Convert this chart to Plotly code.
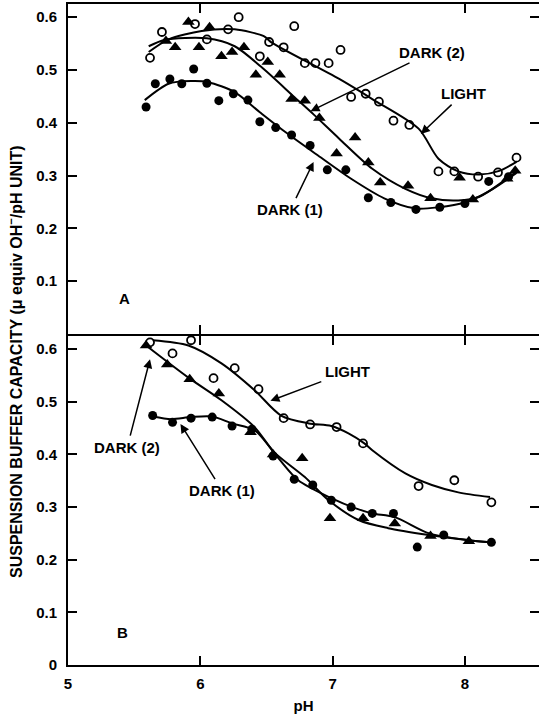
import plotly.graph_objects as go

# ---------------- Panel A data ----------------
a_light_ph = [5.62, 5.71, 5.96, 6.05, 6.21, 6.29, 6.45, 6.52, 6.63, 6.71, 6.79, 6.87, 6.97, 7.06,
              7.14, 7.25, 7.35, 7.46, 7.58, 7.80, 7.92, 8.10, 8.25, 8.39]
a_light_val = [0.523, 0.572, 0.587, 0.558, 0.577, 0.600, 0.526, 0.553, 0.543, 0.583, 0.513, 0.513, 0.513, 0.538,
               0.449, 0.455, 0.440, 0.404, 0.396, 0.308, 0.308, 0.298, 0.306, 0.334]

a_dark2_ph = [5.74, 5.81, 5.91, 5.99, 6.07, 6.16, 6.24, 6.33, 6.42, 6.51, 6.60, 6.69, 6.79, 6.90,
              7.03, 7.17, 7.27, 7.36, 7.57, 7.74, 7.96, 8.06, 8.32, 8.38]
a_dark2_val = [0.555, 0.543, 0.591, 0.543, 0.581, 0.526, 0.534, 0.543, 0.491, 0.515, 0.491, 0.445, 0.442, 0.409,
               0.342, 0.372, 0.325, 0.287, 0.281, 0.257, 0.296, 0.255, 0.294, 0.309]

a_dark1_ph = [5.59, 5.66, 5.77, 5.86, 5.95, 6.05, 6.14, 6.25, 6.36, 6.45, 6.57, 6.69, 6.83, 6.96,
              7.10, 7.27, 7.44, 7.63, 7.81, 8.00, 8.18, 8.33]
a_dark1_val = [0.430, 0.474, 0.483, 0.474, 0.502, 0.475, 0.442, 0.455, 0.443, 0.402, 0.391, 0.377, 0.357, 0.311,
               0.311, 0.258, 0.249, 0.236, 0.240, 0.247, 0.289, 0.298]

# fitted curves (panel A)
a_light_fit_ph = [5.61, 5.76, 6.01, 6.26, 6.48, 6.54, 7.05, 7.30, 7.65, 7.80, 7.95, 8.11, 8.26, 8.39]
a_light_fit_val = [0.534, 0.558, 0.574, 0.577, 0.564, 0.552, 0.483, 0.445, 0.389, 0.332, 0.308, 0.302, 0.309, 0.326]

a_dark2_fit_ph = [5.61, 5.73, 6.05, 6.26, 6.46, 6.71, 6.86, 7.05, 7.30, 7.55, 7.75, 7.95, 8.11, 8.30, 8.39]
a_dark2_fit_val = [0.545, 0.557, 0.560, 0.545, 0.506, 0.449, 0.415, 0.370, 0.313, 0.275, 0.257, 0.253, 0.260, 0.291, 0.307]

a_dark1_fit_ph = [5.58, 5.76, 5.93, 6.06, 6.26, 6.45, 6.64, 6.89, 7.14, 7.39, 7.62, 7.80, 8.00, 8.18, 8.39]
a_dark1_fit_val = [0.443, 0.474, 0.479, 0.477, 0.458, 0.420, 0.383, 0.338, 0.294, 0.257, 0.238, 0.240, 0.249, 0.270, 0.305]

# ---------------- Panel B data ----------------
b_light_ph = [5.62, 5.79, 5.93, 6.10, 6.26, 6.44, 6.63, 6.83, 7.03, 7.23, 7.65, 7.92, 8.20]
b_light_val = [0.613, 0.592, 0.617, 0.545, 0.564, 0.524, 0.469, 0.457, 0.452, 0.421, 0.340, 0.351, 0.309]

b_dark2_ph = [5.59, 5.75, 5.92, 6.14, 6.38, 6.55, 6.77, 6.98, 7.23, 7.47, 7.74, 8.03]
b_dark2_val = [0.607, 0.571, 0.543, 0.516, 0.442, 0.400, 0.393, 0.279, 0.279, 0.269, 0.245, 0.235]

b_dark1_ph = [5.64, 5.79, 5.93, 6.09, 6.24, 6.39, 6.55, 6.71, 6.85, 6.99, 7.14, 7.30, 7.46, 7.64, 7.84, 8.20]
b_dark1_val = [0.474, 0.461, 0.469, 0.471, 0.454, 0.448, 0.397, 0.353, 0.342, 0.313, 0.300, 0.288, 0.288, 0.224, 0.247, 0.233]

# fitted curves (panel B)
b_light_fit_ph = [5.64, 5.91, 6.16, 6.41, 6.61, 6.82, 6.99, 7.12, 7.24, 7.30, 7.55, 7.75, 7.95, 8.19]
b_light_fit_val = [0.617, 0.607, 0.573, 0.522, 0.474, 0.459, 0.454, 0.440, 0.421, 0.408, 0.364, 0.342, 0.328, 0.319]

b_dark2_fit_ph = [5.59, 5.91, 6.16, 6.41, 6.56, 6.79, 6.97, 7.20, 7.42, 7.73, 8.03, 8.19]
b_dark2_fit_val = [0.607, 0.546, 0.503, 0.452, 0.404, 0.357, 0.313, 0.275, 0.260, 0.247, 0.237, 0.233]

b_dark1_fit_ph = [5.64, 5.78, 5.93, 6.09, 6.24, 6.41, 6.59, 6.74, 6.99, 7.17, 7.30, 7.47, 7.73, 8.03, 8.20]
b_dark1_fit_val = [0.472, 0.467, 0.471, 0.472, 0.459, 0.446, 0.393, 0.351, 0.317, 0.298, 0.288, 0.281, 0.250, 0.237, 0.233]

x_ticks = [5, 6, 7, 8]
x_ticktext = ["5", "6", "7", "8"]
ya_ticks = [0.1, 0.2, 0.3, 0.4, 0.5, 0.6]
ya_ticktext = ["0.1", "0.2", "0.3", "0.4", "0.5", "0.6"]
yb_ticks = [0, 0.1, 0.2, 0.3, 0.4, 0.5, 0.6]
yb_ticktext = ["0", "0.1", "0.2", "0.3", "0.4", "0.5", "0.6"]

BLACK = "black"
FONT = "Liberation Sans"

fig = go.Figure()

open_marker = dict(symbol="circle-open", size=8, color=BLACK, line=dict(width=1.8, color=BLACK))
filled_marker = dict(symbol="circle", size=9, color=BLACK)
tri_marker = dict(symbol="triangle-up", size=11, color=BLACK)
curve = dict(color=BLACK, width=2, shape="spline", smoothing=0.8)

# Panel A (x2, y2)
for ph, val in [(a_light_fit_ph, a_light_fit_val), (a_dark2_fit_ph, a_dark2_fit_val), (a_dark1_fit_ph, a_dark1_fit_val)]:
    fig.add_trace(go.Scatter(x=ph, y=val, mode="lines", line=curve, xaxis="x2", yaxis="y2", showlegend=False))
fig.add_trace(go.Scatter(x=a_light_ph, y=a_light_val, mode="markers", marker=open_marker, xaxis="x2", yaxis="y2", showlegend=False))
fig.add_trace(go.Scatter(x=a_dark2_ph, y=a_dark2_val, mode="markers", marker=tri_marker, xaxis="x2", yaxis="y2", showlegend=False))
fig.add_trace(go.Scatter(x=a_dark1_ph, y=a_dark1_val, mode="markers", marker=filled_marker, xaxis="x2", yaxis="y2", showlegend=False))

# Panel B (x, y)
for ph, val in [(b_light_fit_ph, b_light_fit_val), (b_dark2_fit_ph, b_dark2_fit_val), (b_dark1_fit_ph, b_dark1_fit_val)]:
    fig.add_trace(go.Scatter(x=ph, y=val, mode="lines", line=curve, xaxis="x", yaxis="y", showlegend=False))
fig.add_trace(go.Scatter(x=b_light_ph, y=b_light_val, mode="markers", marker=open_marker, xaxis="x", yaxis="y", showlegend=False))
fig.add_trace(go.Scatter(x=b_dark2_ph, y=b_dark2_val, mode="markers", marker=tri_marker, xaxis="x", yaxis="y", showlegend=False))
fig.add_trace(go.Scatter(x=b_dark1_ph, y=b_dark1_val, mode="markers", marker=filled_marker, xaxis="x", yaxis="y", showlegend=False))

axis_common = dict(showgrid=False, zeroline=False, showline=True, linecolor=BLACK, linewidth=2,
                   ticks="inside", ticklen=9, tickwidth=2, tickcolor=BLACK, mirror="ticks",
                   tickfont=dict(family=FONT, size=15, color=BLACK, weight="bold"))

split = 0.4992
gap = 1.0 / 661  # 2px gap so the two panel lines coincide as one 2px line
fig.update_layout(
    width=539, height=718,
    margin=dict(l=68, r=0, t=4, b=53),
    paper_bgcolor="white", plot_bgcolor="white",
    xaxis=dict(range=[5, 8.56], domain=[0, 1], anchor="y", tickvals=x_ticks, ticktext=x_ticktext,
               ticklabelstandoff=4, automargin=False,
               title=dict(text="pH", font=dict(family=FONT, size=15, color=BLACK, weight="bold"), standoff=9),
               **axis_common),
    xaxis2=dict(range=[5, 8.56], domain=[0, 1], anchor="y2", matches="x", tickvals=x_ticks,
                showticklabels=False, **axis_common),
    yaxis=dict(range=[0, 0.625], domain=[0, split - gap], anchor="x", tickvals=yb_ticks, ticktext=yb_ticktext,
               ticklabelstandoff=6, automargin=False, **axis_common),
    yaxis2=dict(range=[0, 0.625], domain=[split + gap, 1], anchor="x2", tickvals=ya_ticks, ticktext=ya_ticktext,
                ticklabelstandoff=6, automargin=False, **axis_common),
)

ann_font = dict(family=FONT, size=15, color=BLACK, weight="bold")

def arrow_ann(text, tx, ty, hx, hy, xr, yr):
    fig.add_annotation(x=hx, y=hy, ax=tx, ay=ty, xref=xr, yref=yr, axref=xr, ayref=yr,
                       text=text, showarrow=True, arrowhead=2, arrowsize=1.2, arrowwidth=1.5,
                       arrowcolor=BLACK, font=ann_font, standoff=0, startstandoff=2)

# Panel A labels
arrow_ann("DARK (2)", 7.75, 0.534, 6.833, 0.422, "x2", "y2")
arrow_ann("LIGHT", 7.99, 0.456, 7.667, 0.379, "x2", "y2")
arrow_ann("DARK (1)", 6.68, 0.235, 6.856, 0.326, "x2", "y2")
fig.add_annotation(x=5.43, y=0.068, xref="x2", yref="y2", text="A", showarrow=False, font=ann_font)

# Panel B labels
arrow_ann("LIGHT", 7.11, 0.557, 6.53, 0.502, "x", "y")
arrow_ann("DARK (2)", 5.447, 0.413, 5.62, 0.581, "x", "y")
arrow_ann("DARK (1)", 6.167, 0.331, 5.85, 0.458, "x", "y")
fig.add_annotation(x=5.41, y=0.061, xref="x", yref="y", text="B", showarrow=False, font=ann_font)

# Y-axis title spanning both panels
fig.add_annotation(x=(15 - 68) / 471, y=(718 - 53 - 362) / 661, xref="paper", yref="paper",
                   text="SUSPENSION BUFFER CAPACITY (\u03bc equiv OH<sup>\u2212</sup>/pH UNIT)",
                   textangle=-90, showarrow=False, xanchor="center", yanchor="middle",
                   font=dict(family=FONT, size=16, color=BLACK, weight="bold"))

fig.write_html("out.html", config={"displayModeBar": False},
               post_script="document.body.style.margin='0';")
